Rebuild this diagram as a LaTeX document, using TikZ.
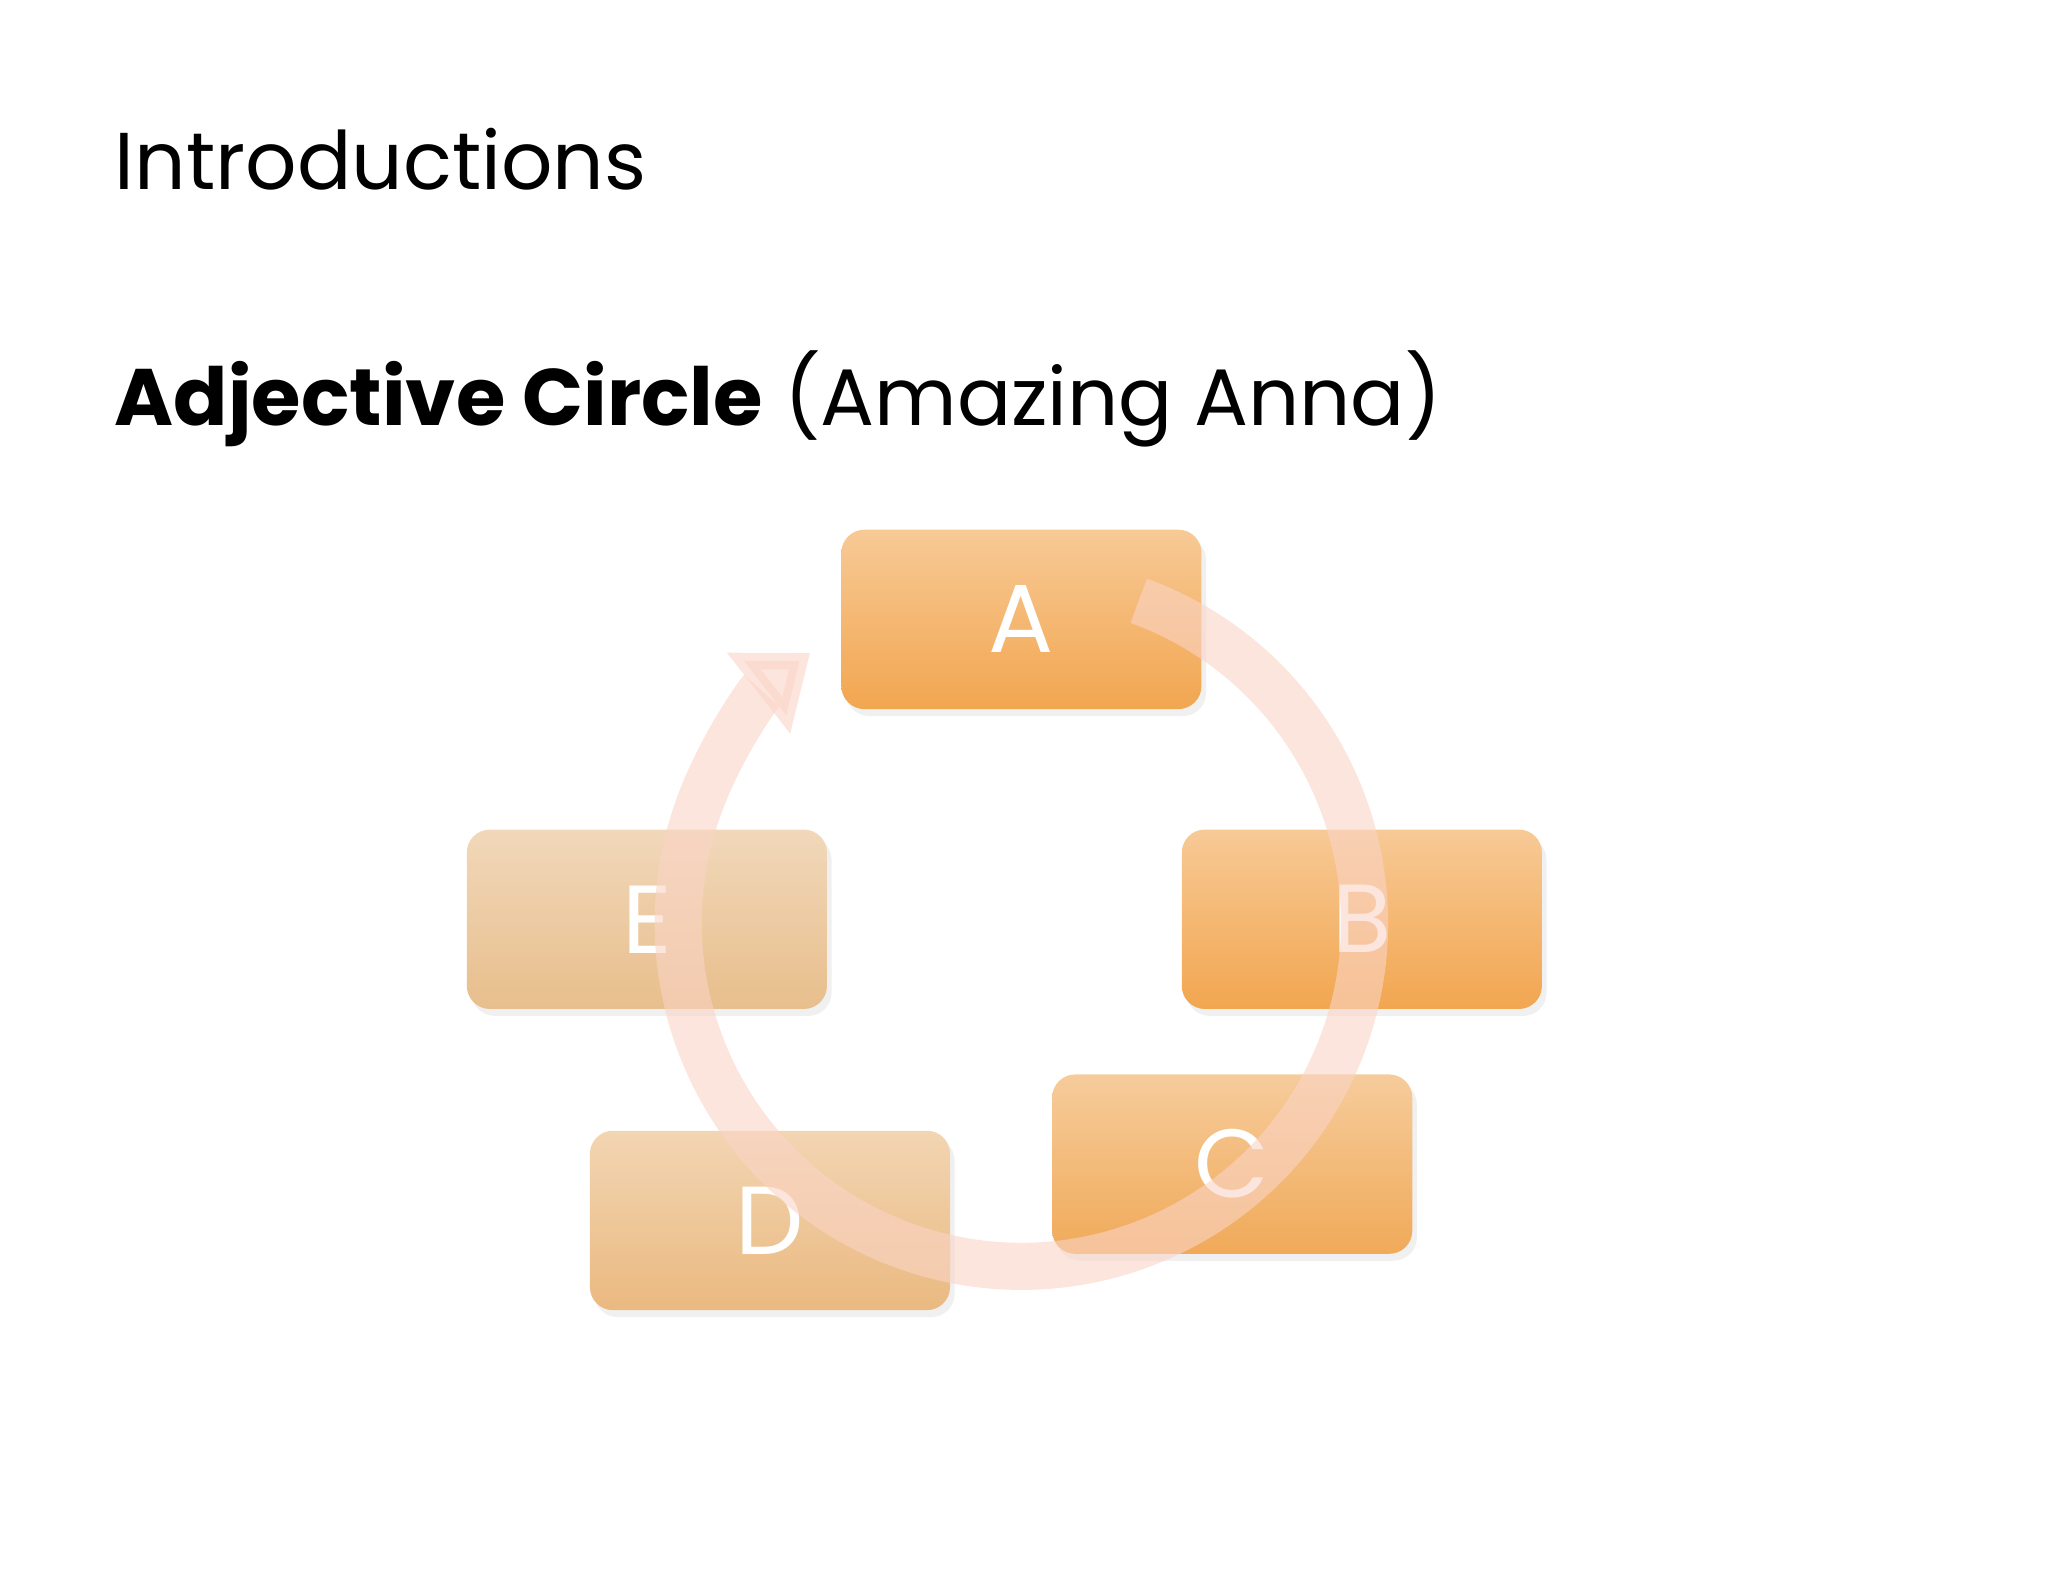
\documentclass[tikz,border=0pt]{standalone}
\usepackage{fontspec}
\setmainfont{Poppins}
\usetikzlibrary{arrows.meta,shadows}
\definecolor{ringc}{RGB}{250,212,198}
\definecolor{boxdark}{RGB}{242,166,80}
\definecolor{boxpale}{RGB}{232,190,140}
\tikzset{
 boxA/.style={rounded corners=5pt, minimum width=275*0.01cm, minimum height=137*0.01cm,
   top color=#1!60!white, bottom color=#1, draw=none, text=white,
   font=\fontsize{21}{24}\selectfont, drop shadow={opacity=0.12,shadow xshift=1pt,shadow yshift=-1.5pt}}
}
\begin{document}
\begin{tikzpicture}[x=0.01cm,y=-0.01cm]
\useasboundingbox (0,0) rectangle (1564,1208);
\node[anchor=base west,inner sep=0,font=\fontsize{17.5}{22}\selectfont] (t1) at (87,145) {Introductions};
\node[anchor=base west,inner sep=0,font=\fontsize{17.4}{22}\selectfont] (t2) at (87,325) {\textbf{Adjective Circle} (Amazing Anna)};
\node[boxA=boxdark] (A) at (780,473) {A};
\node[boxA=boxdark] (B) at (1040,702) {B};
\node[boxA=boxdark!85!boxpale] (C) at (941,889) {C};
\node[boxA=boxpale!80!boxdark] (D) at (588,932) {D};
\node[boxA=boxpale] (E) at (494,702) {E};
\coordinate (cc) at (780,705);
\begin{scope}[y=0.01cm]
\draw[ringc, line width=36*0.01cm, opacity=0.6, -{Triangle[length=0.5cm,width=0.75cm]}]
  ([shift={(70:262)}]cc) arc[start angle=70, end angle=-232, radius=262];
\end{scope}
\end{tikzpicture}
\end{document}
